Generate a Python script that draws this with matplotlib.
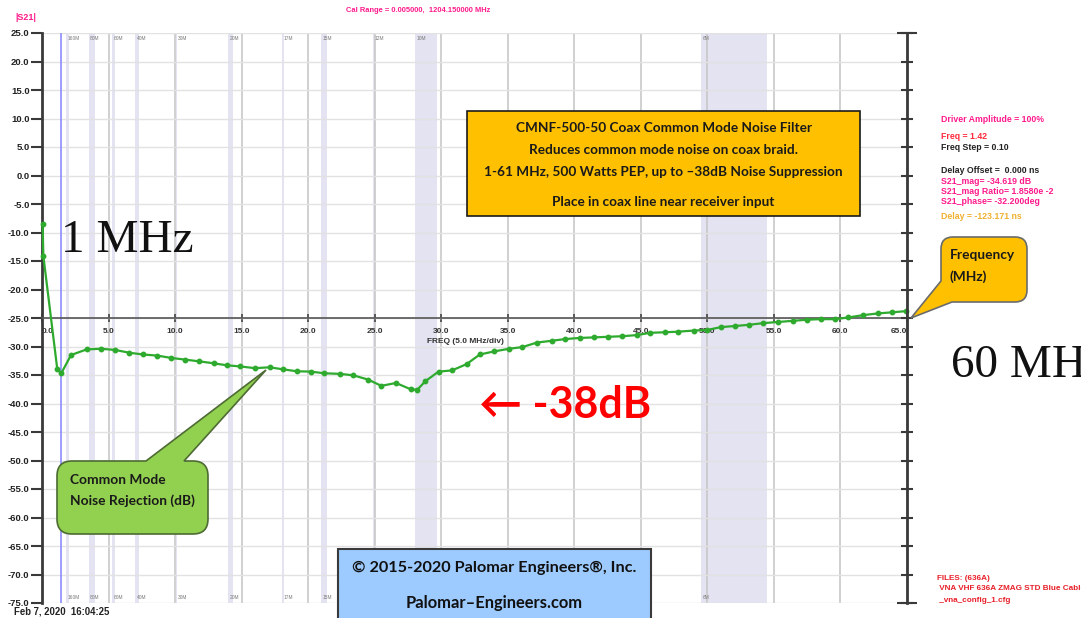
import numpy as np
import matplotlib
matplotlib.use("Agg")
import matplotlib.pyplot as plt
from matplotlib.path import Path
from matplotlib.patches import PathPatch, Rectangle

# ---------------- data ----------------
freq_mhz = [0.05, 0.1, 1.15, 1.45, 2.18, 3.36, 4.44, 5.49, 6.57, 7.6,
            8.67, 9.7, 10.75, 11.8, 12.9, 13.9, 14.9, 16.0, 17.1, 18.1,
            19.15, 20.2, 21.2, 22.4, 23.4, 24.5, 25.5, 26.6, 27.7, 28.2,
            28.8, 29.8, 30.8, 31.9, 32.9, 34.0, 35.1, 36.1, 37.2, 38.3,
            39.3, 40.4, 41.5, 42.5, 43.6, 44.7, 45.7, 46.8, 47.8, 49.0,
            50.0, 51.0, 52.1, 53.1, 54.2, 55.3, 56.4, 57.5, 58.5, 59.6,
            60.6, 61.7, 62.8, 63.9, 64.9]
s21_db = [-8.5, -14.1, -34.0, -34.7, -31.5, -30.5, -30.4, -30.6, -31.1, -31.4,
          -31.6, -32.0, -32.3, -32.6, -32.95, -33.3, -33.5, -33.8, -33.65, -34.0,
          -34.35, -34.4, -34.7, -34.8, -35.06, -35.8, -36.9, -36.4, -37.5, -37.6,
          -36.1, -34.4, -34.2, -33.1, -31.4, -30.85, -30.4, -30.1, -29.3, -29.0,
          -28.7, -28.5, -28.4, -28.3, -28.2, -28.0, -27.6, -27.5, -27.4, -27.2,
          -27.1, -26.6, -26.4, -26.2, -25.9, -25.7, -25.5, -25.3, -25.2, -25.2,
          -24.9, -24.5, -24.2, -24.0, -23.8]

band_names = ["160M", "80M", "60M", "40M", "30M", "20M", "17M", "15M", "12M", "10M", "6M"]
band_lo = [1.8, 3.5, 5.25, 7.0, 10.1, 14.0, 18.07, 21.0, 24.89, 28.0, 49.5]
band_hi = [2.0, 4.0, 5.45, 7.3, 10.15, 14.35, 18.17, 21.45, 24.99, 29.7, 54.5]

x_ticks = [0, 5, 10, 15, 20, 25, 30, 35, 40, 45, 50, 55, 60, 65]
x_tick_labels = ["0.0", "5.0", "10.0", "15.0", "20.0", "25.0", "30.0", "35.0",
                 "40.0", "45.0", "50.0", "55.0", "60.0", "65.0"]
y_ticks = [25, 20, 15, 10, 5, 0, -5, -10, -15, -20, -25, -30, -35, -40, -45,
           -50, -55, -60, -65, -70, -75]
y_tick_labels = ["25.0", "20.0", "15.0", "10.0", "5.0", "0.0", "-5.0", "-10.0",
                 "-15.0", "-20.0", "-25.0", "-30.0", "-35.0", "-40.0", "-45.0",
                 "-50.0", "-55.0", "-60.0", "-65.0", "-70.0", "-75.0"]
marker_freq = 1.42

# ---------------- figure ----------------
W, H = 1081, 618
fig = plt.figure(figsize=(W / 100, H / 100), dpi=100)
fig.patch.set_facecolor("white")

def fx(x):
    return x / W

def fy(y):
    return 1 - y / H

VNA = "Liberation Sans"
BOX = ["Lato", "DejaVu Sans"]

ax = fig.add_axes([fx(42), fy(603), (907 - 42) / W, (603 - 33) / H])
ax.set_xlim(0, 65)
ax.set_ylim(-75, 25)
ax.set_axisbelow(True)

# spines first (set_position resets ticks)
ax.spines["top"].set_visible(False)
ax.spines["right"].set_visible(False)
ax.spines["left"].set_color("#3a3a3a")
ax.spines["left"].set_linewidth(2)
ax.spines["bottom"].set_position(("data", -25))
ax.spines["bottom"].set_color("#555555")
ax.spines["bottom"].set_linewidth(1.2)

# ham bands
for lo, hi, name in zip(band_lo, band_hi, band_names):
    ax.axvspan(lo, hi, color="#e3e3f1", lw=0, zorder=0)
    ax.text(lo + 0.12, 24.5, name, fontsize=3.5, color="#7a7a7a",
            va="top", ha="left", family=VNA, zorder=1)
    ax.text(lo + 0.12, -74.4, name, fontsize=3.5, color="#7a7a7a",
            va="bottom", ha="left", family=VNA, zorder=1)

ax.set_xticks(x_ticks)
ax.set_xticklabels(x_tick_labels, fontsize=6, fontweight="bold",
                   color="#333333", family=VNA)
ax.set_yticks(y_ticks)
ax.set_yticklabels(y_tick_labels, fontsize=6.8, fontweight="bold",
                   color="#222222", family=VNA)
ax.grid(axis="y", color="#e2e2e2", lw=1.0)
ax.grid(axis="x", color="#c8c8c8", lw=1.2)
ax.tick_params(axis="x", direction="inout", length=6, width=1.2,
               color="#444444", pad=4)
ax.tick_params(axis="y", direction="out", length=8, width=1.5,
               color="#3a3a3a", pad=1)

xl = ax.get_xticklabels()
xl[0].set_ha("left")
xl[-1].set_ha("right")

# right axis with ticks
ax2 = ax.twinx()
ax2.set_ylim(-75, 25)
ax2.set_yticks(y_ticks)
ax2.set_yticks([25, -75], minor=True)
ax2.yaxis.remove_overlapping_locs = False
for s in ["top", "left", "bottom"]:
    ax2.spines[s].set_visible(False)
ax2.spines["right"].set_color("#3a3a3a")
ax2.spines["right"].set_linewidth(2)
ax2.tick_params(axis="y", which="major", direction="inout", length=8,
                width=1.5, color="#3a3a3a", labelright=False)
ax2.tick_params(axis="y", which="minor", direction="inout", length=14,
                width=1.5, color="#3a3a3a", labelright=False)

# marker line and trace
ax.axvline(marker_freq, color="#8c8cff", lw=1.2, zorder=1)
ax.plot(freq_mhz, s21_db, color="#2eaa2e", lw=1.6, marker="o", ms=3.2,
        zorder=3, clip_on=False)

ax.text(0.489, 0.458, "FREQ (5.0 MHz/div)", transform=ax.transAxes,
        fontsize=6, fontweight="bold", color="#333333", family=VNA,
        ha="center", va="center")

# ---------------- VNA texts ----------------
def T(x, y, s, **kw):
    kw.setdefault("va", "center")
    kw.setdefault("ha", "left")
    return fig.text(fx(x), fy(y), s, **kw)

MAG = "#ff1a8c"
T(15, 18, "|S21|", fontsize=6.5, fontweight="bold", color=MAG, family=VNA)
T(346, 11, "Cal Range = 0.005000,  1204.150000 MHz", fontsize=5.4,
  fontweight="bold", color=MAG, family=VNA)
T(14, 612, "Feb 7, 2020  16:04:25", fontsize=6.9, fontweight="bold",
  color="#222222", family=VNA)

T(941, 119.5, "Driver Amplitude = 100%", fontsize=6.3, fontweight="bold", color=MAG, family=VNA)
T(941, 136, "Freq = 1.42", fontsize=6.3, fontweight="bold", color="#ff2a3a", family=VNA)
T(941, 147, "Freq Step = 0.10", fontsize=6.3, fontweight="bold", color="#222222", family=VNA)
T(941, 170.5, "Delay Offset =  0.000 ns", fontsize=6.3, fontweight="bold", color="#222222", family=VNA)
T(941, 181, "S21_mag= -34.619 dB", fontsize=6.3, fontweight="bold", color=MAG, family=VNA)
T(941, 191.5, "S21_mag Ratio= 1.8580e -2", fontsize=6.3, fontweight="bold", color=MAG, family=VNA)
T(941, 202, "S21_phase= -32.200deg", fontsize=6.3, fontweight="bold", color=MAG, family=VNA)
T(941, 216, "Delay = -123.171 ns", fontsize=6.3, fontweight="bold", color="#f0b030", family=VNA)

RED = "#e8202a"
T(937, 578, "FILES: (636A)", fontsize=5.9, fontweight="bold", color=RED, family=VNA)
T(937, 589, " VNA VHF 636A ZMAG STD Blue Cable", fontsize=5.9, fontweight="bold", color=RED, family=VNA)
T(937, 600, " _vna_config_1.cfg", fontsize=5.9, fontweight="bold", color=RED, family=VNA)

# ---------------- annotations ----------------
def callout(x0, y0, x1, y1, r, pointer_side, base_a, tip, base_b, **kw):
    """Rounded box with pointer; coordinates in pixels (y down)."""
    M, L, C, Z = Path.MOVETO, Path.LINETO, Path.CURVE3, Path.CLOSEPOLY
    v, c = [], []
    def add(p, code):
        v.append((fx(p[0]), fy(p[1])))
        c.append(code)
    if pointer_side == "top":
        add((x0 + r, y0), M)
        add(base_a, L); add(tip, L); add(base_b, L)
        add((x1 - r, y0), L)
        add((x1, y0), C); add((x1, y0 + r), C)
        add((x1, y1 - r), L)
        add((x1, y1), C); add((x1 - r, y1), C)
        add((x0 + r, y1), L)
        add((x0, y1), C); add((x0, y1 - r), C)
        add((x0, y0 + r), L)
        add((x0, y0), C); add((x0 + r, y0), C)
    else:  # pointer from bottom-left corner
        add((x0 + r, y0), M)
        add((x1 - r, y0), L)
        add((x1, y0), C); add((x1, y0 + r), C)
        add((x1, y1 - r), L)
        add((x1, y1), C); add((x1 - r, y1), C)
        add(base_b, L); add(tip, L); add(base_a, L)
        add((x0, y0 + r), L)
        add((x0, y0), C); add((x0 + r, y0), C)
    add((x0 + r, y0), Z)
    p = PathPatch(Path(v, c), transform=fig.transFigure, **kw)
    fig.add_artist(p)
    return p

# green callout
callout(57, 461, 208, 534, 15, "top", (146, 461), (266, 370), (184, 461),
        facecolor="#92d050", edgecolor="#4d6b33", lw=1.2, zorder=5)
T(70, 480, "Common Mode", fontsize=9.9, fontweight="bold", color="#1a1a1a",
  family=BOX, zorder=6)
T(70, 501, "Noise Rejection (dB)", fontsize=9.9, fontweight="bold",
  color="#1a1a1a", family=BOX, zorder=6)

# frequency callout
callout(941, 237, 1027, 302, 12, "left", (941, 281), (911, 318), (952, 302),
        facecolor="#ffc000", edgecolor="#6b6b6b", lw=1.2, zorder=5)
T(950, 255, "Frequency", fontsize=9.9, fontweight="bold", color="#1a1a1a",
  family=BOX, zorder=6)
T(950, 277, "(MHz)", fontsize=9.9, fontweight="bold", color="#1a1a1a",
  family=BOX, zorder=6)

# orange info box
fig.add_artist(Rectangle((fx(467), fy(216)), (860 - 467) / W, (216 - 111) / H,
                         transform=fig.transFigure, facecolor="#ffc000",
                         edgecolor="#1a1a1a", lw=1.2, zorder=5))
box_lines = ["CMNF-500-50 Coax Common Mode Noise Filter",
             "Reduces common mode noise on coax braid.",
             "1-61 MHz, 500 Watts PEP, up to \u201338dB Noise Suppression",
             "Place in coax line near receiver input"]
for s, yy in zip(box_lines, [128.5, 149.5, 171.5, 202]):
    T(663.5, yy, s, ha="center", fontsize=9.8, fontweight="bold",
      color="#1a1a1a", family=BOX, zorder=6)

# blue copyright box
fig.add_artist(Rectangle((fx(338), fy(625)), (651 - 338) / W, (625 - 549) / H,
                         transform=fig.transFigure, facecolor="#9dcbff",
                         edgecolor="#3a3a3a", lw=1.5, zorder=5))
T(494, 568, "\u00a9 2015-2020 Palomar Engineers\u00ae, Inc.", ha="center",
  fontsize=11.7, fontweight="bold", color="#111111", family=BOX, zorder=6)
T(494, 603, "Palomar\u2013Engineers.com", ha="center", fontsize=11.9,
  fontweight="bold", color="#111111", family=BOX, zorder=6)

# large labels
T(61, 252, "1 MHz", va="baseline", fontsize=34, color="#111111",
  family="Liberation Serif", zorder=6)
T(951, 377, "60 MHz", va="baseline", fontsize=34, color="#111111",
  family="Liberation Serif", zorder=6)
T(479, 418, "\u2190 -38dB", va="baseline", fontsize=31, fontweight="bold",
  color="#ff0000", family=BOX, zorder=6)

fig.savefig("out.png", dpi=100)
